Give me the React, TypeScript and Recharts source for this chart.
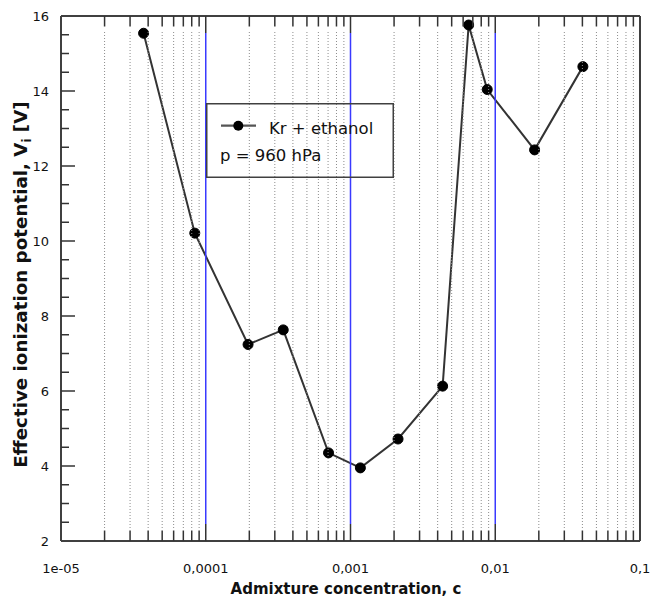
import React from 'react';
import { LineChart, Line, XAxis, YAxis, Legend } from 'recharts';

// ---- data ----
const concentration = [3.72e-5, 8.4e-5, 1.96e-4, 3.43e-4, 7.05e-4, 1.17e-3, 2.13e-3, 4.33e-3, 6.55e-3, 8.8e-3, 1.87e-2, 4.03e-2];
const potential = [15.54, 10.21, 7.24, 7.63, 4.35, 3.95, 4.72, 6.13, 15.76, 14.04, 12.43, 14.65];
const decadeTicks = [1e-5, 1e-4, 1e-3, 1e-2, 1e-1];
const decadeLabels = ['1e-05', '0,0001', '0,001', '0,01', '0,1'];
const yLabelTicks = [2, 4, 6, 8, 10, 12, 14, 16];
const seriesName = 'Kr + ethanol';
const pressureNote = 'p = 960 hPa';
const xTitle = 'Admixture concentration, c';
const yTitleMain = 'Effective ionization potential, V';
const yTitleSub = 'i';
const yTitleUnit = ' [V]';

const data = concentration.map((c, i) => ({ c, v: potential[i] }));

// all x ticks: decades + 2..9 multiples
const xTicks: number[] = [];
decadeTicks.forEach((d, i) => {
  xTicks.push(d);
  if (i < decadeTicks.length - 1) {
    for (let k = 2; k <= 9; k++) xTicks.push(Number((k * d).toPrecision(6)));
  }
});
const yTicks: number[] = [];
for (let v = yLabelTicks[0]; v <= yLabelTicks[yLabelTicks.length - 1] + 1e-9; v += 0.5) yTicks.push(v);

// ---- layout ----
const W = 650;
const H = 601;
const MARGIN = { top: 11, right: 5, bottom: 20, left: 16 };
const LEFT_W = 45;
const RIGHT_W = 5;
const TOP_H = 5;
const BOTTOM_H = 40;
const PLOT_H = H - MARGIN.top - MARGIN.bottom - TOP_H - BOTTOM_H; // 525

const FONT = '"DejaVu Sans", Verdana, sans-serif';
const FRAME = '#404040';
const TICK = '#333333';
const BLUE = '#3a3aff';
const DOT = '#8c8c8c';

const isDecade = (v: number) => {
  const l = Math.log10(v);
  return Math.abs(l - Math.round(l)) < 1e-6;
};
const isEdge = (v: number) => Math.abs(v - decadeTicks[0]) < 1e-12 || Math.abs(v - decadeTicks[decadeTicks.length - 1]) < 1e-9;

const BottomTick = (props: any) => {
  const { x, y, payload } = props;
  const v = payload.value;
  const top = y - PLOT_H;
  if (isDecade(v)) {
    const idx = decadeTicks.findIndex((d) => Math.abs(Math.log10(d) - Math.log10(v)) < 1e-6);
    return (
      <g>
        {!isEdge(v) && (
          <>
            <line x1={x} x2={x} y1={y - 17} y2={top + 17} stroke={BLUE} strokeWidth={1.5} />
            <line x1={x} x2={x} y1={y} y2={y - 17} stroke={TICK} strokeWidth={1.5} />
            <line x1={x} x2={x} y1={top} y2={top + 17} stroke={TICK} strokeWidth={1.5} />
          </>
        )}
        <text x={x} y={y + 32} textAnchor="middle" fontFamily={FONT} fontSize={13} fill="#111">
          {decadeLabels[idx]}
        </text>
      </g>
    );
  }
  return (
    <g>
      <line x1={x} x2={x} y1={y - 13} y2={top + 14} stroke={DOT} strokeWidth={1} strokeDasharray="1 2" />
      <line x1={x} x2={x} y1={y} y2={y - 10.5} stroke={TICK} strokeWidth={1.5} />
      <line x1={x} x2={x} y1={top} y2={top + 10.5} stroke={TICK} strokeWidth={1.5} />
    </g>
  );
};

const LeftTick = (props: any) => {
  const { x, y, payload } = props;
  const v = payload.value;
  const major = Math.abs(v / 2 - Math.round(v / 2)) < 1e-6;
  const len = major ? 14 : 8;
  const edge = Math.abs(v - yTicks[0]) < 1e-9 || Math.abs(v - yTicks[yTicks.length - 1]) < 1e-9;
  return (
    <g>
      {!edge && <line x1={x} x2={x + len} y1={y} y2={y} stroke={TICK} strokeWidth={1.5} />}
      {major && (
        <text x={x - 12} y={y + 4.5} textAnchor="end" fontFamily={FONT} fontSize={13} fill="#111">
          {v}
        </text>
      )}
    </g>
  );
};

const RightTick = (props: any) => {
  const { x, y, payload } = props;
  const v = payload.value;
  const major = Math.abs(v / 2 - Math.round(v / 2)) < 1e-6;
  const len = major ? 14 : 7.5;
  const edge = Math.abs(v - yTicks[0]) < 1e-9 || Math.abs(v - yTicks[yTicks.length - 1]) < 1e-9;
  if (edge) return <g />;
  return <line x1={x} x2={x - len} y1={y} y2={y} stroke={TICK} strokeWidth={1.5} />;
};

const XTitle = (props: any) => {
  const vb = props.viewBox;
  return (
    <text x={vb.x + vb.width / 2 - 4.5} y={vb.y + 53} textAnchor="middle" fontFamily={FONT} fontWeight="bold" fontSize={15} fill="#111">
      {xTitle}
    </text>
  );
};

const YTitle = (props: any) => {
  const vb = props.viewBox;
  const cx = vb.x + 11;
  const cy = vb.y + vb.height / 2 + 6;
  return (
    <text x={cx} y={cy} transform={`rotate(-90, ${cx}, ${cy})`} textAnchor="middle" fontFamily={FONT} fontWeight="bold" fontSize={18.3} fill="#111">
      <tspan>{yTitleMain}</tspan>
      <tspan dy={4} fontSize={11.5}>{yTitleSub}</tspan>
      <tspan dy={-4}>{yTitleUnit}</tspan>
    </text>
  );
};

const LegendBox = (props: any) => {
  const name = props.payload && props.payload[0] ? props.payload[0].value : seriesName;
  return (
    <svg width={188} height={75} style={{ display: 'block' }}>
      <rect x={0.75} y={0.75} width={186.5} height={73.5} fill="none" stroke={FRAME} strokeWidth={1.5} />
      <line x1={15} x2={50} y1={22.7} y2={22.7} stroke="#555" strokeWidth={2.2} />
      <circle cx={32.3} cy={22.7} r={5} fill="#000" />
      <text x={63} y={31.3} fontFamily={FONT} fontSize={16.5} fill="#111">{name}</text>
      <text x={14} y={58} fontFamily={FONT} fontSize={16.5} fill="#111">{pressureNote}</text>
    </svg>
  );
};

export default function App() {
  return (
    <div style={{ position: 'absolute', left: 0, top: 0, width: W, height: H, background: '#fff' }}>
      <LineChart width={W} height={H} data={data} margin={MARGIN}>
        <XAxis
          xAxisId="b"
          dataKey="c"
          type="number"
          scale="log"
          domain={[decadeTicks[0], decadeTicks[decadeTicks.length - 1]]}
          allowDataOverflow
          ticks={xTicks}
          interval={0}
          tickSize={0}
          tickMargin={0}
          tickLine={false}
          tick={BottomTick}
          height={BOTTOM_H}
          axisLine={{ stroke: FRAME, strokeWidth: 2 }}
          label={XTitle}
        />
        <XAxis
          xAxisId="t"
          dataKey="c"
          type="number"
          scale="log"
          orientation="top"
          domain={[decadeTicks[0], decadeTicks[decadeTicks.length - 1]]}
          allowDataOverflow
          tick={false}
          tickLine={false}
          height={TOP_H}
          axisLine={{ stroke: FRAME, strokeWidth: 2 }}
        />
        <YAxis
          yAxisId="l"
          type="number"
          domain={[yTicks[0], yTicks[yTicks.length - 1]]}
          ticks={yTicks}
          interval={0}
          tickSize={0}
          tickMargin={0}
          tickLine={false}
          tick={LeftTick}
          width={LEFT_W}
          axisLine={{ stroke: FRAME, strokeWidth: 2 }}
          label={YTitle}
        />
        <YAxis
          yAxisId="r"
          orientation="right"
          type="number"
          domain={[yTicks[0], yTicks[yTicks.length - 1]]}
          ticks={yTicks}
          interval={0}
          tickSize={0}
          tickMargin={0}
          tickLine={false}
          tick={RightTick}
          width={RIGHT_W}
          axisLine={{ stroke: FRAME, strokeWidth: 2 }}
        />
        <Legend
          layout="horizontal"
          verticalAlign="middle"
          align="center"
          width={188}
          height={75}
          wrapperStyle={{ left: 206, top: 103, width: 188, height: 75 }}
          content={LegendBox}
        />
        <Line
          xAxisId="b"
          yAxisId="l"
          name={seriesName}
          dataKey="v"
          type="linear"
          stroke="#333"
          strokeWidth={2}
          dot={{ r: 5, fill: '#000', stroke: '#000', strokeWidth: 1 }}
          isAnimationActive={false}
        />
      </LineChart>
    </div>
  );
}
